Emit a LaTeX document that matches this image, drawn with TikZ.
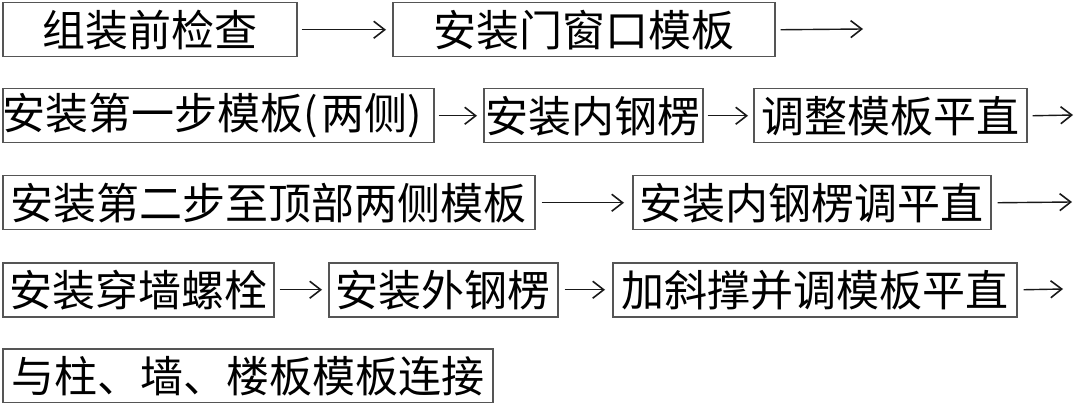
\documentclass[tikz,border=0pt]{standalone}
\usepackage{fontspec}
\newfontfamily\cjk{Noto Sans CJK SC}
\usetikzlibrary{arrows.meta}
\definecolor{boxgray}{RGB}{85,85,85}
\begin{document}
\begin{tikzpicture}[x=1pt,y=-1pt,
  box/.style={draw=boxgray, line width=1.5pt, inner sep=0pt, anchor=north west,
    minimum height=54pt, font=\cjk\fontsize{43}{43}\selectfont, text=black},
  arr/.style={line width=1.4pt, draw=black!90, -{Straight Barb[length=11pt,width=17pt,line width=1.6pt]}}]
\useasboundingbox (0,0) rectangle (1083,403);
% row 1
\node[box, minimum width=294pt] (A) at (2,2) {组装前检查};
\node[box, minimum width=382pt] (B) at (392,2) {安装门窗口模板};
\coordinate (Bend) at (863,29);
% row 2
\node[box, minimum width=429pt] (C) at (2,88) {安装第一步模板(\hspace{3pt}两侧)\hspace*{12pt}};
\node[box, minimum width=219pt] (D) at (483,88) {安装内钢楞};
\node[box, minimum width=273pt] (E) at (753,88) {调整模板平直};
\coordinate (Eend) at (1073,115);
% row 3
\node[box, minimum width=532pt] (F) at (2,175) {安装第二步至顶部两侧模板};
\node[box, minimum width=358pt] (G) at (632,175) {安装内钢楞调平直};
\coordinate (Gend) at (1072,202);
% row 4
\node[box, minimum width=271pt] (H) at (2,262) {安装穿墙螺栓};
\node[box, minimum width=229pt] (I) at (328,262) {安装外钢楞};
\node[box, minimum width=404pt] (J) at (612,262) {加斜撑并调模板平直};
\coordinate (Jend) at (1063,289);
% row 5
\node[box, minimum width=490pt] (K) at (2,348) {与柱、墙、楼板模板连接};
% arrows
\draw[arr] ([xshift=4pt]A.east) -- ([xshift=-6pt]B.west);
\draw[arr] ([xshift=5pt]B.east) -- (Bend);
\draw[arr] ([xshift=4pt]C.east) -- ([xshift=-6pt]D.west);
\draw[arr] ([xshift=4pt]D.east) -- ([xshift=-5pt]E.west);
\draw[arr] ([xshift=5pt]E.east) -- (Eend);
\draw[arr] ([xshift=6pt]F.east) -- ([xshift=-8pt]G.west);
\draw[arr] ([xshift=6pt]G.east) -- (Gend);
\draw[arr] ([xshift=5pt]H.east) -- ([xshift=-6pt]I.west);
\draw[arr] ([xshift=6pt]I.east) -- ([xshift=-7pt]J.west);
\draw[arr] ([xshift=6pt]J.east) -- (Jend);
\end{tikzpicture}
\end{document}
